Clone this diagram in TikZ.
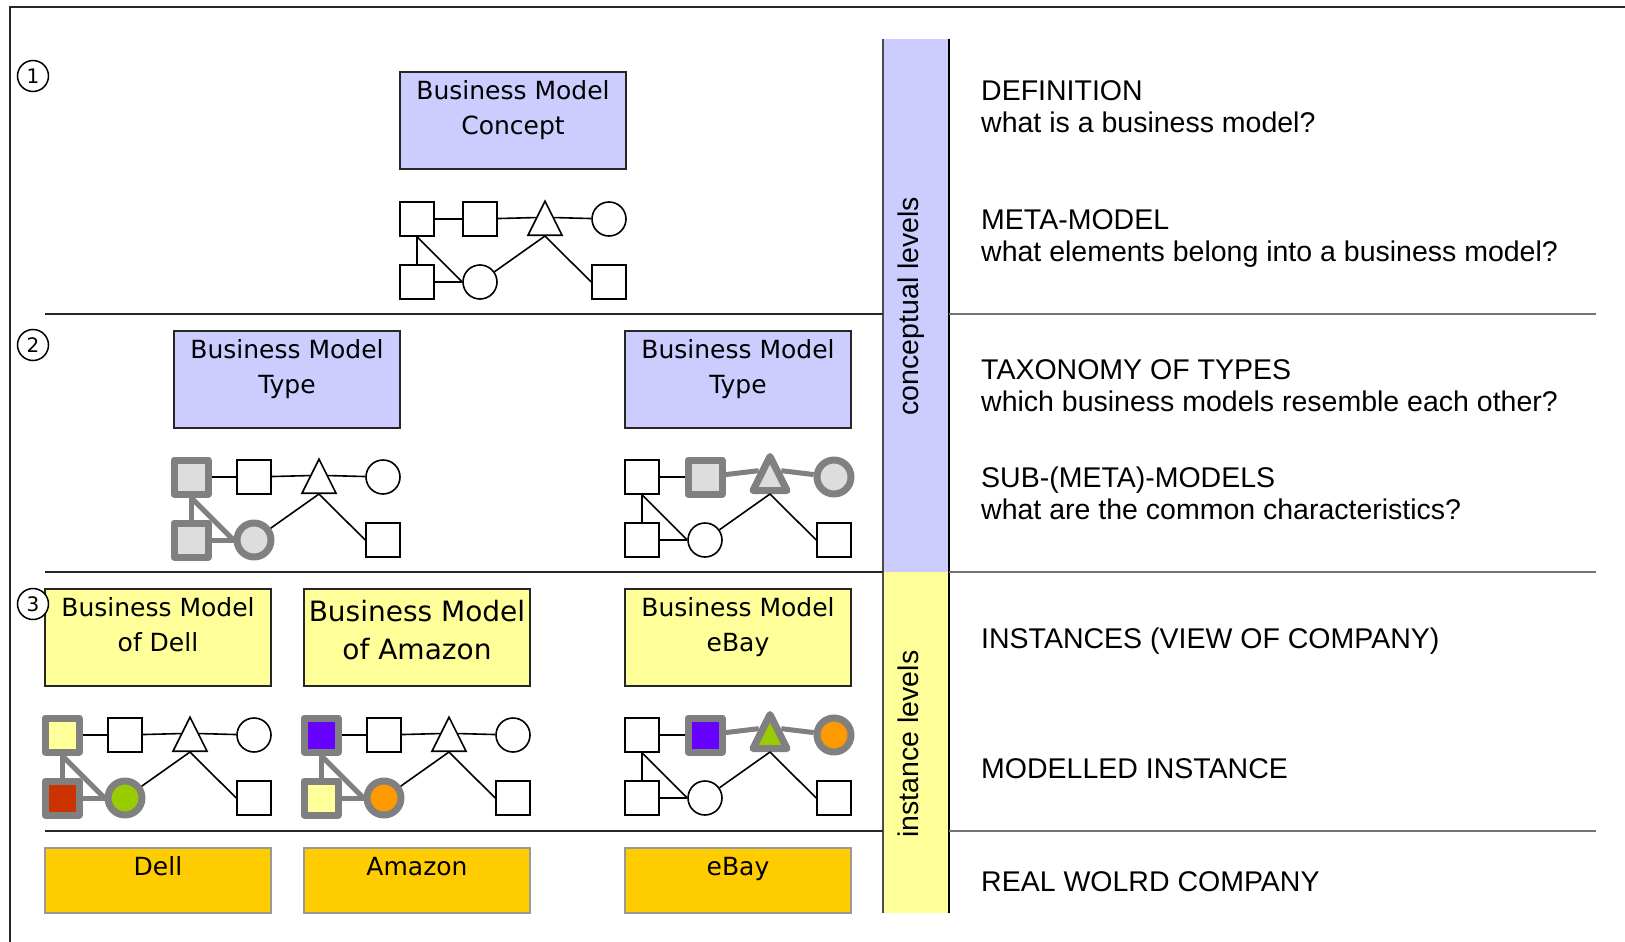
\documentclass[tikz,border=0pt]{standalone}
\usepackage{fontspec}
\usetikzlibrary{shapes.geometric}

\newfontfamily\boxfam{DejaVu Sans}
\newfontfamily\sidefam{Liberation Sans}
\newcommand{\boxfont}{\boxfam\fontsize{25}{35}\selectfont}
\newcommand{\bigboxfont}{\boxfam\fontsize{28}{38}\selectfont}
\newcommand{\sidefont}{\sidefam\fontsize{28.5}{32}\selectfont}

\definecolor{lav}{RGB}{204,204,255}
\definecolor{paleyel}{RGB}{255,255,153}
\definecolor{firm}{RGB}{255,204,0}
\definecolor{hlgray}{RGB}{128,128,128}
\definecolor{hlfill}{RGB}{221,221,221}
\definecolor{bmred}{RGB}{204,51,0}
\definecolor{bmpurple}{RGB}{102,0,255}
\definecolor{bmgreen}{RGB}{153,204,0}
\definecolor{bmorange}{RGB}{255,153,0}

\tikzset{
	gA/.style = {}, gB/.style = {}, gT/.style = {}, gC/.style = {},
	gD/.style = {}, gE/.style = {}, gF/.style = {},
	eAB/.style = {}, eBT/.style = {}, eTC/.style = {}, eAD/.style = {},
	eAE/.style = {}, eDE/.style = {}, eET/.style = {}, eTF/.style = {},
	bmbox/.style = {draw = black!85, line width = 1.8pt, minimum width = 226pt, minimum height = 97pt, inner sep = 0pt},
	firmbox/.style = {draw = black!40, line width = 1.5pt, fill = firm, minimum width = 226pt, minimum height = 65pt, inner sep = 0pt},
	boxtext/.style = {anchor = base, align = center, inner sep = 0pt, font = \boxfont},
	sidetext/.style = {anchor = base west, inner sep = 0pt, font = \sidefont},
	sq/.style = {draw, line width = 1.6pt, fill = white, rectangle, minimum size = 34pt, inner sep = 0pt},
	ci/.style = {draw, line width = 1.6pt, fill = white, circle, minimum size = 34pt, inner sep = 0pt},
	tri/.style = {draw, line width = 1.6pt, fill = white, isosceles triangle, isosceles triangle stretches,
		shape border rotate = 90, minimum width = 34pt, minimum height = 34pt, inner sep = 0pt, anchor = lower side},
	hl/.style = {draw = hlgray, line width = 7pt, line join = round, fill = hlfill},
	link/.style = {line width = 1.6pt},
	hllink/.style = {draw = hlgray, line width = 5pt},
	numcirc/.style = {draw, circle, fill = white, line width = 1.5pt, minimum size = 31pt, inner sep = 0pt, font = \boxfam\fontsize{20}{20}\selectfont},
	sepline/.style = {line width = 2.2pt}
}

\newcommand{\modelgraph}[2]{
	\begin{scope}[shift = {(#2)}]
		\node[sq, gA] (#1A) at (0,0) {};
		\node[sq, gB] (#1B) at (63,0) {};
		\node[tri, gT] (#1T) at (128,17) {};
		\node[ci, gC] (#1C) at (192,0) {};
		\node[sq, gD] (#1D) at (0,63) {};
		\node[ci, gE] (#1E) at (63,63) {};
		\node[sq, gF] (#1F) at (192,63) {};
		\draw[link, eAB] (#1A) -- (#1B);
		\draw[link, eBT] (#1B) -- (#1T.left side);
		\draw[link, eTC] (#1T.right side) -- (#1C);
		\draw[link, eAD] (#1A) -- (#1D);
		\draw[link, eAE] (#1A.south) -- (#1E.west);
		\draw[link, eDE] (#1D) -- (#1E);
		\draw[link, eET] (#1E) -- (#1T.lower side);
		\draw[link, eTF] (#1T.lower side) -- (#1F.west);
	\end{scope}
}

\begin{document}
\begin{tikzpicture}[x = 1pt, y = -1pt]
	\useasboundingbox (0,0) rectangle (1625,942);
	\draw[black!85, line width = 2.3pt] (10,942) -- (10,7) -- (1625,7);

	\fill[lav] (883,39) rectangle (949,572);
	\fill[paleyel] (883,572) rectangle (949,913);
	\draw[black!70, line width = 2pt] (883,39) -- (883,913);
	\draw[line width = 2pt] (949,39) -- (949,913);
	\foreach \y in {314,572,831} {
		\draw[sepline, black!85] (45,\y) -- (883,\y);
		\draw[sepline, black!55] (949,\y) -- (1596,\y);
	}
	\node[rotate = 90, anchor = base, inner sep = 0pt, font = \sidefont] (concLevels) at (918,306) {conceptual levels};
	\node[rotate = 90, anchor = base, inner sep = 0pt, font = \sidefont] (instLevels) at (918,744) {instance levels};

	\node[bmbox, fill = lav] (concept) at (513,120.5) {};
	\node[boxtext] (conceptTxt) at ([yshift = -63pt]concept.north) {Business Model\\Concept};
	\node[bmbox, fill = lav] (typeL) at (287,379.5) {};
	\node[boxtext] (typeLTxt) at ([yshift = -63pt]typeL.north) {Business Model\\Type};
	\node[bmbox, fill = lav] (typeR) at (738,379.5) {};
	\node[boxtext] (typeRTxt) at ([yshift = -63pt]typeR.north) {Business Model\\Type};
	\node[bmbox, fill = paleyel] (dellBM) at (158,637.5) {};
	\node[boxtext] (dellBMTxt) at ([yshift = -63pt]dellBM.north) {Business Model\\of Dell};
	\node[bmbox, fill = paleyel] (amazonBM) at (417,637.5) {};
	\node[boxtext, font = \bigboxfont] (amazonBMTxt) at ([yshift = -71pt]amazonBM.north) {Business Model\\of Amazon};
	\node[bmbox, fill = paleyel] (ebayBM) at (738,637.5) {};
	\node[boxtext] (ebayBMTxt) at ([yshift = -63pt]ebayBM.north) {Business Model\\eBay};
	\node[firmbox] (dell) at (158,880.5) {};
	\node[boxtext] (dellTxt) at ([yshift = -28pt]dell.north) {Dell};
	\node[firmbox] (amazon) at (417,880.5) {};
	\node[boxtext] (amazonTxt) at ([yshift = -28pt]amazon.north) {Amazon};
	\node[firmbox] (ebay) at (738,880.5) {};
	\node[boxtext] (ebayTxt) at ([yshift = -28pt]ebay.north) {eBay};

	\modelgraph{meta}{417,219}
	\begin{scope}[gA/.style = {hl}, gD/.style = {hl}, gE/.style = {hl},
		eAD/.style = {hllink}, eAE/.style = {hllink}, eDE/.style = {hllink}]
		\modelgraph{typL}{191,477}
	\end{scope}
	\begin{scope}[gB/.style = {hl}, gT/.style = {hl}, gC/.style = {hl},
		eBT/.style = {hllink}, eTC/.style = {hllink}]
		\modelgraph{typR}{642,477}
	\end{scope}
	\begin{scope}[gA/.style = {hl, fill = paleyel}, gD/.style = {hl, fill = bmred}, gE/.style = {hl, fill = bmgreen},
		eAD/.style = {hllink}, eAE/.style = {hllink}, eDE/.style = {hllink}]
		\modelgraph{insDell}{62,735}
	\end{scope}
	\begin{scope}[gA/.style = {hl, fill = bmpurple}, gD/.style = {hl, fill = paleyel}, gE/.style = {hl, fill = bmorange},
		eAD/.style = {hllink}, eAE/.style = {hllink}, eDE/.style = {hllink}]
		\modelgraph{insAmazon}{321,735}
	\end{scope}
	\begin{scope}[gB/.style = {hl, fill = bmpurple}, gT/.style = {hl, fill = bmgreen}, gC/.style = {hl, fill = bmorange},
		eBT/.style = {hllink}, eTC/.style = {hllink}]
		\modelgraph{insEbay}{642,735}
	\end{scope}

	\foreach \y [count = \k] in {76,345,604}
		\node[numcirc] (level\k) at (33,\y) {\k};

	\foreach \y/\txt [count = \k] in {100/DEFINITION, 132/what is a business model?,
		229/META-MODEL, 261/what elements belong into a business model?,
		379/TAXONOMY OF TYPES, 411/which business models resemble each other?,
		487/SUB-(META)-MODELS, 519/what are the common characteristics?,
		648/INSTANCES (VIEW OF COMPANY), 778/MODELLED INSTANCE, 891/REAL WOLRD COMPANY}
		\node[sidetext] (side\k) at (981,\y) {\txt};
\end{tikzpicture}
\end{document}
